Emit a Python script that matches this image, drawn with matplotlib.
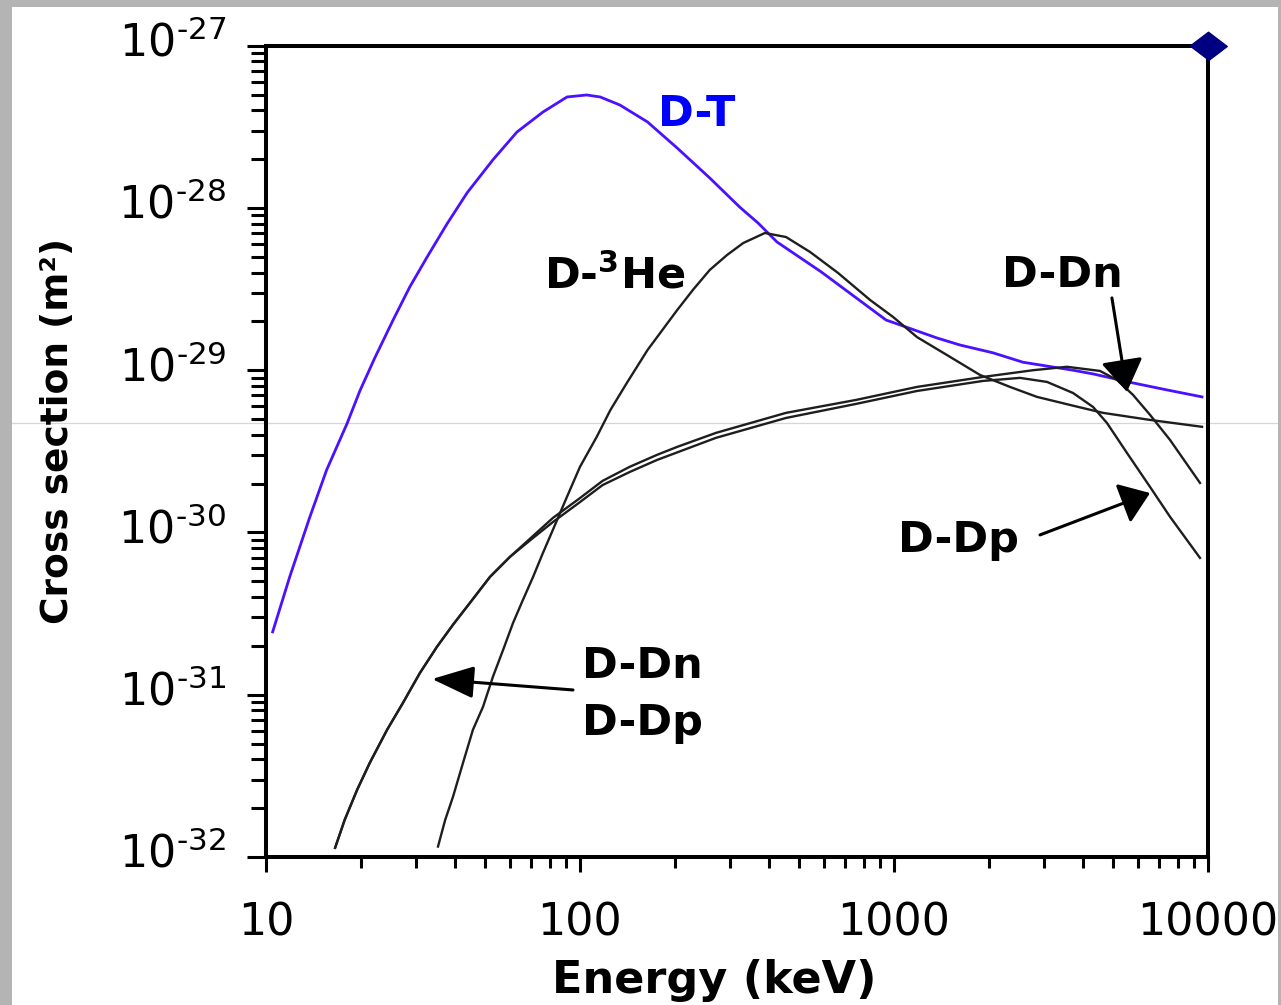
import math
import matplotlib
matplotlib.use("Agg")
import matplotlib.pyplot as plt
from matplotlib.patches import Rectangle
from matplotlib.lines import Line2D
from matplotlib.transforms import ScaledTranslation
from matplotlib.ticker import LogLocator, FuncFormatter, NullFormatter

# ── Data (energy in keV, cross section in m^2) ────────────────────────────────
dt_energy = [10.5, 11.9, 13.8, 15.6, 18.1, 19.9, 22.2, 25.4, 28.7, 32.6,
             37.7, 43.7, 52.8, 63.0, 76.2, 90.9, 105, 116, 134, 164,
             204, 259, 323, 369, 424, 586, 943, 1371, 1623, 2067,
             2575, 3716, 4303, 5769, 7402, 9570]
dt_sigma = [2.44e-31, 5.33e-31, 1.25e-30, 2.43e-30, 4.67e-30, 7.45e-30, 1.19e-29, 2.04e-29, 3.26e-29, 4.99e-29,
            7.97e-29, 1.24e-28, 1.98e-28, 2.94e-28, 3.90e-28, 4.83e-28, 4.97e-28, 4.83e-28, 4.31e-28, 3.39e-28,
            2.34e-28, 1.53e-28, 1.01e-28, 8.08e-29, 6.17e-29, 4.04e-29, 2.04e-29, 1.58e-29, 1.43e-29, 1.28e-29,
            1.12e-29, 1.00e-29, 9.49e-30, 8.35e-30, 7.56e-30, 6.85e-30]

dhe_energy = [35.3, 37.2, 39.4, 42.4, 45.6, 49.1, 52.8, 56.9, 61.2, 65.8,
              70.9, 76.2, 82.0, 90.9, 100, 113, 125, 141, 164, 204,
              229, 259, 294, 331, 388, 453, 540, 663, 839, 993,
              1184, 1475, 1879, 2341, 2853, 3635, 4630, 6536, 9570]
dhe_sigma = [1.16e-32, 1.69e-32, 2.35e-32, 3.80e-32, 6.08e-32, 8.42e-32, 1.29e-31, 1.89e-31, 2.77e-31, 3.84e-31,
             5.33e-31, 7.48e-31, 1.04e-30, 1.66e-30, 2.54e-30, 3.88e-30, 5.69e-30, 8.35e-30, 1.33e-29, 2.35e-29,
             3.13e-29, 4.15e-29, 5.13e-29, 6.08e-29, 7.01e-29, 6.62e-29, 5.36e-29, 3.98e-29, 2.71e-29, 2.13e-29,
             1.60e-29, 1.24e-29, 9.35e-30, 7.89e-30, 6.85e-30, 6.11e-30, 5.46e-30, 4.94e-30, 4.48e-30]

ddn_energy = [16.6, 17.8, 19.5, 21.4, 24.3, 27.3, 30.9, 35.0, 39.4, 44.6,
              51.7, 59.8, 70.9, 82.0, 100, 118, 144, 176, 204, 271,
              453, 757, 1184, 1920, 2772, 3556, 4529, 5131, 5769, 6536,
              7568, 9430]
ddn_sigma = [1.14e-32, 1.69e-32, 2.59e-32, 3.80e-32, 6.08e-32, 8.91e-32, 1.36e-31, 1.97e-31, 2.70e-31, 3.68e-31,
             5.33e-31, 7.07e-31, 9.53e-31, 1.23e-30, 1.63e-30, 2.08e-30, 2.54e-30, 3.01e-30, 3.37e-30, 4.11e-30,
             5.46e-30, 6.56e-30, 7.89e-30, 9.09e-30, 1.00e-29, 1.05e-29, 9.90e-30, 8.71e-30, 7.05e-30, 5.31e-30,
             3.72e-30, 2.02e-30]

ddp_energy = [16.6, 17.8, 19.5, 21.4, 24.3, 27.3, 30.9, 35.0, 39.4, 44.6,
              51.7, 59.8, 70.9, 82.0, 100, 118, 144, 176, 271, 453,
              757, 1184, 1920, 2519, 3071, 3716, 4303, 4767, 5521, 6536,
              7568, 9430]
ddp_sigma = [1.14e-32, 1.69e-32, 2.59e-32, 3.80e-32, 6.08e-32, 8.91e-32, 1.36e-31, 1.97e-31, 2.70e-31, 3.68e-31,
             5.33e-31, 7.07e-31, 9.26e-31, 1.16e-30, 1.54e-30, 1.96e-30, 2.36e-30, 2.80e-30, 3.83e-30, 5.08e-30,
             6.20e-30, 7.45e-30, 8.59e-30, 8.97e-30, 8.47e-30, 7.24e-30, 5.94e-30, 4.73e-30, 3.09e-30, 1.91e-30,
             1.25e-30, 6.97e-31]

x_ticks = [10, 100, 1000, 10000]
y_ticks = [1e-32, 1e-31, 1e-30, 1e-29, 1e-28, 1e-27]

# ── Figure / frame ────────────────────────────────────────────────────────────
W, H = 1281, 1005
fig = plt.figure(figsize=(W / 100, H / 100), dpi=100)
fig.patch.set_facecolor("white")

gray = "#b4b4b4"
for (x0, y0, w, h) in [(0, 0, 12, H), (0, 0, W, 7), (1278, 0, W - 1278, H)]:
    fig.add_artist(Rectangle((x0 / W, 1 - (y0 + h) / H), w / W, h / H,
                             transform=fig.transFigure, facecolor=gray,
                             edgecolor="none", zorder=10))
# faint scan line across the picture
fig.add_artist(Line2D([12 / W, 1278 / W], [1 - 423 / H] * 2, transform=fig.transFigure,
                      color="#d6d6d6", lw=0.9, zorder=-1))

ax = fig.add_axes([266 / W, 1 - 857 / H, 942 / W, 811.3 / H])
ax.set_facecolor("none")
ax.set_xscale("log")
ax.set_yscale("log")
ax.set_xlim(10, 10000)
ax.set_ylim(1e-32, 1e-27)

# ── Curves ────────────────────────────────────────────────────────────────────
ax.plot(dt_energy, dt_sigma, color="#4a10ff", lw=2.0, zorder=2)
for e, s in [(dhe_energy, dhe_sigma), (ddn_energy, ddn_sigma), (ddp_energy, ddp_sigma)]:
    ax.plot(e, s, color="#1e1e1e", lw=1.7, zorder=3)

ax.plot([x_ticks[-1]], [y_ticks[-1]], marker=[(-1, 0), (0, 0.76), (1, 0), (0, -0.76)],
        markersize=27, color="#000080", clip_on=False, zorder=5)

# ── Axes styling ──────────────────────────────────────────────────────────────
for sp in ax.spines.values():
    sp.set_linewidth(2.9)
    sp.set_color("black")

ax.xaxis.set_minor_locator(LogLocator(base=10, subs=range(2, 10), numticks=20))
ax.yaxis.set_minor_locator(LogLocator(base=10, subs=range(2, 10), numticks=20))
ax.xaxis.set_minor_formatter(NullFormatter())
ax.yaxis.set_minor_formatter(NullFormatter())
ax.set_xticks(x_ticks)
ax.set_yticks(y_ticks)
ax.xaxis.set_major_formatter(FuncFormatter(lambda v, p: f"{v:.0f}"))
ax.yaxis.set_major_formatter(FuncFormatter(
    lambda v, p: r"$\mathregular{10^{\text{-}%d}}$" % round(-math.log10(v))))

ax.tick_params(axis="both", which="both", direction="out", width=2.2, colors="black",
               top=False, right=False, labelsize=32)
ax.tick_params(axis="y", which="major", length=13.7, pad=15)
ax.tick_params(axis="y", which="minor", length=10.8)
ax.tick_params(axis="x", which="major", length=10.8, pad=21)
ax.tick_params(axis="x", which="minor", length=7.9)

# lift the y tick labels a little, as in the reference
shift = ScaledTranslation(0, 5 / 72, fig.dpi_scale_trans)
for t in ax.get_yticklabels():
    t.set_transform(t.get_transform() + shift)

fig.text(58 / W, 1 - 431 / H, "Cross section (m²)", rotation=90, ha="center", va="center",
         fontsize=27, fontweight="bold")
fig.text(714 / W, 1 - 993 / H, "Energy (keV)", ha="center", va="baseline",
         fontsize=32, fontweight="bold")

# ── Labels and arrows ─────────────────────────────────────────────────────────
def axpos(px, py):
    return ((px - 266) / 942, (857 - py) / 811.3)

lab = dict(fontsize=31, fontweight="bold", ha="left", va="baseline", transform=ax.transAxes)
ax.text(*axpos(658, 126), "D-T", color="#0000ff", **lab)
ax.text(*axpos(544, 288), r"D-$^{\mathbf{3}}$He", color="black", **lab)
ax.text(*axpos(1002, 287), "D-Dn", color="black", **lab)
ax.text(*axpos(898, 552), "D-Dp", color="black", **lab)
ax.text(*axpos(582, 678), "D-Dn", color="black", **lab)
ax.text(*axpos(582, 735), "D-Dp", color="black", **lab)

arrows = [
    ((5521, 7.35e-30), (4943, 2.79e-29), 1.0, 0.65),
    ((6536, 1.75e-30), (2917, 9.66e-31), 0.9, 0.65),
    ((33.8, 1.25e-31), (95.0, 1.07e-31), 1.3, 0.5),
]
for tip, tail, hl, hw in arrows:
    ax.annotate("", xy=tip, xytext=tail, xycoords="data", textcoords="data",
                arrowprops=dict(arrowstyle=f"-|>,head_length={hl},head_width={hw}",
                                color="black", lw=2.2, mutation_scale=20,
                                shrinkA=0, shrinkB=0), zorder=6)

fig.savefig("out.png", dpi=100, facecolor=fig.get_facecolor())
